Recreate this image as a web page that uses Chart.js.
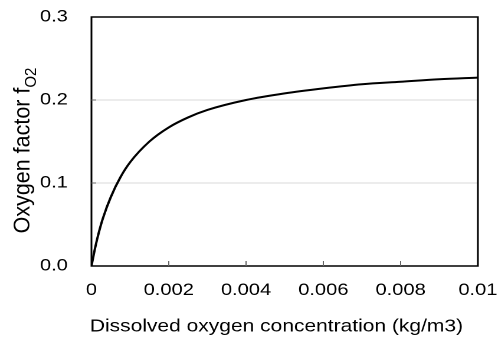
<!DOCTYPE html>
<html>
<head>
<meta charset="utf-8">
<script src="https://cdn.jsdelivr.net/npm/chart.js@4"></script>
<style>
  html, body { margin: 0; padding: 0; background: #fff; overflow: hidden; }
  #wrap { width: 422px; height: 339px; transform: scaleX(1.18); transform-origin: 0 0; }
</style>
</head>
<body>
<div id="wrap"><canvas id="chart" width="422" height="339"></canvas></div>
<script>
// dissolved oxygen (kg/m3) vs. oxygen factor
const concentration = [0, 0.0001, 0.0002, 0.0003, 0.0005, 0.00075, 0.001, 0.0015, 0.002, 0.0025, 0.003, 0.004, 0.005, 0.006, 0.007, 0.008, 0.009, 0.01];
const oxygenFactor = [0, 0.023, 0.042, 0.058, 0.083, 0.107, 0.125, 0.150, 0.167, 0.179, 0.188, 0.200, 0.208, 0.214, 0.219, 0.222, 0.225, 0.227];
const xTickLabels = ['0', '0.002', '0.004', '0.006', '0.008', '0.01'];
const yTickLabels = ['0.0', '0.1', '0.2', '0.3'];
const xTitle = 'Dissolved oxygen concentration (kg/m3)';

const FONT = '"Liberation Sans", Arial, sans-serif';

// frame, inward tick marks and both axis titles (y one has a subscript)
const framePlugin = {
  id: 'frame',
  afterDraw(chart) {
    const { ctx, chartArea: a, scales } = chart;
    ctx.save();
    ctx.strokeStyle = '#000';
    ctx.lineWidth = 1.5;
    ctx.strokeRect(a.left, a.top, a.right - a.left, a.bottom - a.top);
    ctx.lineWidth = 1;
    ctx.strokeStyle = '#666';
    ctx.beginPath();
    scales.x.ticks.forEach((t, i) => {
      if (i === 0 || i === scales.x.ticks.length - 1) return;
      const px = scales.x.getPixelForValue(t.value);
      ctx.moveTo(px, a.bottom);
      ctx.lineTo(px, a.bottom - 5);
    });
    scales.y.ticks.forEach((t, i) => {
      if (i === 0 || i === scales.y.ticks.length - 1) return;
      const py = scales.y.getPixelForValue(t.value);
      ctx.moveTo(a.left, py);
      ctx.lineTo(a.left + 4, py);
    });
    ctx.stroke();

    ctx.fillStyle = '#000';
    ctx.textBaseline = 'alphabetic';

    // x title, sitting a little left of the plot centre
    ctx.textAlign = 'center';
    ctx.font = '17.8px ' + FONT;
    ctx.fillText(xTitle, (a.left + a.right) / 2 - 7, 331.5);

    // rotated y title: "Oxygen factor f" + subscript "O2"
    const main = 'Oxygen factor f';
    const sub = 'O2';
    ctx.font = '21.5px ' + FONT;
    const wMain = ctx.measureText(main).width;
    ctx.font = '15px ' + FONT;
    const wSub = ctx.measureText(sub).width;
    const total = wMain + wSub;
    const cy = (a.top + a.bottom) / 2 + 9;
    ctx.translate(24.8, cy);
    ctx.rotate(-Math.PI / 2);
    ctx.scale(1, 0.9);
    ctx.textAlign = 'left';
    ctx.font = '21.5px ' + FONT;
    ctx.fillText(main, -total / 2, 0);
    ctx.font = '15px ' + FONT;
    ctx.fillText(sub, -total / 2 + wMain, 6.5);
    ctx.restore();
  }
};

new Chart(document.getElementById('chart'), {
  type: 'line',
  data: {
    datasets: [{
      data: concentration.map((c, i) => ({ x: c, y: oxygenFactor[i] })),
      borderColor: '#000',
      borderWidth: 2,
      pointRadius: 0,
      cubicInterpolationMode: 'monotone',
      fill: false
    }]
  },
  options: {
    responsive: false,
    devicePixelRatio: 2,
    animation: false,
    layout: { padding: { top: 17, right: 17, left: 0, bottom: 0 } },
    plugins: { legend: { display: false }, tooltip: { enabled: false } },
    scales: {
      x: {
        type: 'linear',
        min: 0,
        max: 0.01,
        ticks: {
          stepSize: 0.002,
          color: '#000',
          font: { family: FONT, size: 17 },
          padding: 14,
          maxRotation: 0,
          callback: (v, i) => xTickLabels[i]
        },
        grid: { drawOnChartArea: false, drawTicks: false },
        border: { display: false },
        afterFit: s => { s.height = 73; s.paddingLeft = 0; s.paddingRight = 0; }
      },
      y: {
        min: 0,
        max: 0.3,
        ticks: {
          stepSize: 0.1,
          color: '#000',
          font: { family: FONT, size: 17 },
          padding: 20,
          callback: (v, i) => yTickLabels[i]
        },
        grid: {
          drawTicks: false,
          color: ctx => (ctx.index === 0 || ctx.index === 3) ? 'rgba(0,0,0,0)' : '#d9d9d9',
          lineWidth: 1
        },
        border: { display: false },
        afterFit: s => { s.width = 77.5; s.paddingTop = 0; s.paddingBottom = 0; }
      }
    }
  },
  plugins: [framePlugin]
});
</script>
</body>
</html>
